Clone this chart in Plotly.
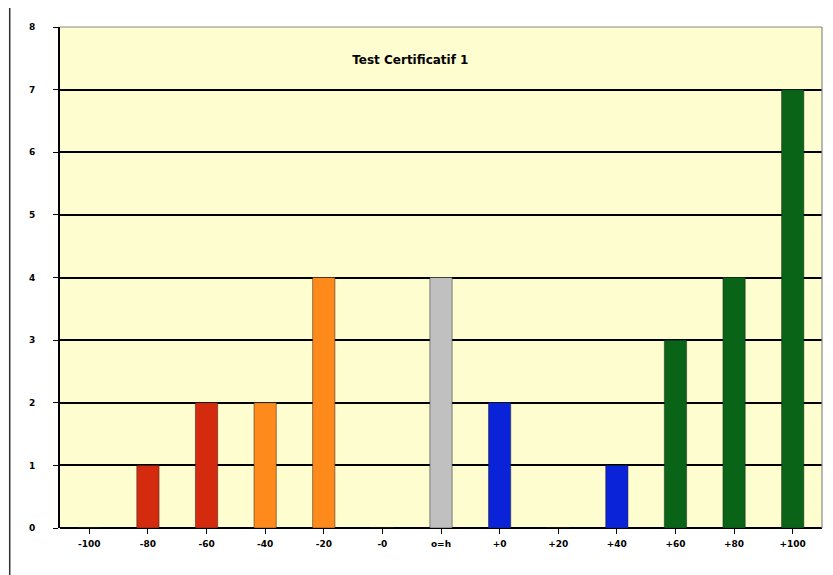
import plotly.graph_objects as go

categories = ["-100", "-80", "-60", "-40", "-20", "-0", "o=h", "+0", "+20", "+40", "+60", "+80", "+100"]
counts = [0, 1, 2, 2, 4, 0, 4, 2, 0, 1, 3, 4, 7]
bar_colors = ["#d42a0e", "#d42a0e", "#d42a0e", "#ff8a1c", "#ff8a1c", "#c0c0c0", "#c0c0c0",
              "#0a22d8", "#0a22d8", "#0a22d8", "#0a6418", "#0a6418", "#0a6418"]

fig = go.Figure(go.Bar(
    x=categories, y=counts,
    marker=dict(color=bar_colors, line=dict(color="#202020", width=0.5)),
    width=0.38,
))

# page body adds an 8px offset, margins compensate for it
fig.update_layout(
    width=833, height=575,
    margin=dict(l=52, r=19, t=19, b=55, autoexpand=False),
    paper_bgcolor="white",
    plot_bgcolor="#fdfdd0",
    showlegend=False,
    font=dict(family="Verdana, DejaVu Sans", size=9, color="black"),
    title=dict(text="<b>Test Certificatif 1</b>", x=0.483, xanchor="center",
               y=0.91, yanchor="middle", font=dict(size=12, color="black")),
    shapes=[
        # outer chart frame (left side is the only visible part)
        dict(type="line", xref="paper", yref="paper", x0=-0.066, x1=-0.066, y0=-0.2, y1=1.2,
             line=dict(color="#303030", width=1.5)),
        # thin grey border on top and right of plot area
        dict(type="line", xref="paper", yref="paper", x0=0, x1=1, y0=1, y1=1,
             line=dict(color="#8a8a80", width=1.2)),
        dict(type="line", xref="paper", yref="paper", x0=1, x1=1, y0=0, y1=1,
             line=dict(color="#8a8a80", width=1.2)),
    ],
)
fig.update_xaxes(showgrid=False, showline=False, ticks="outside", ticklen=5, tickcolor="black",
                 tickfont=dict(size=9, family="DejaVu Sans"), ticklabelstandoff=2, automargin=False,
                 tickprefix="<b>", ticksuffix="</b>")
fig.update_yaxes(range=[0, 8], dtick=1, showgrid=True, gridcolor="black", gridwidth=1.5,
                 showline=True, linecolor="black", linewidth=2, ticks="outside", ticklen=5,
                 tickcolor="black", tickfont=dict(size=9, family="DejaVu Sans"), ticklabelstandoff=16,
                 zeroline=True, zerolinecolor="black", zerolinewidth=2, automargin=False,
                 tickprefix="<b>", ticksuffix="</b>")

fig.write_html("out.html")
